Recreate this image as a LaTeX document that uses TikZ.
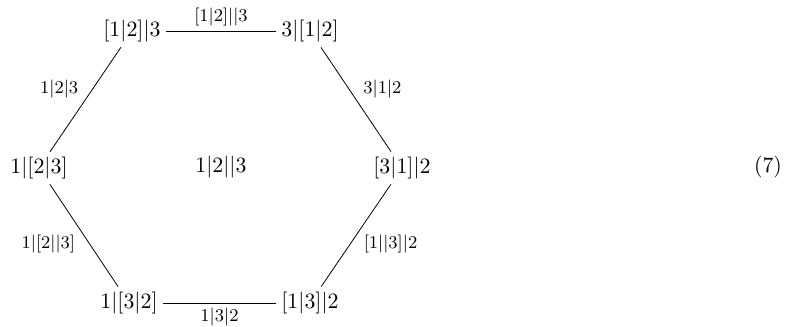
\documentclass[tikz,border=0pt]{standalone}
\begin{document}
\begin{tikzpicture}[x=0.5pt,y=-0.5pt,
  vert/.style={inner sep=2.5pt,font=\fontsize{11.2}{13}\selectfont},
  lab/.style={font=\fontsize{9.5}{11}\selectfont,inner sep=2.5pt},
  edge/.style={draw,line width=0.4pt}]
\useasboundingbox (0,0) rectangle (794,327);
\node[vert] (tl) at (132,31) {$[1|2]|3$};
\node[vert] (tr) at (310,31) {$3|[1|2]$};
\node[vert] (l) at (39,168) {$1|[2|3]$};
\node[vert] (c) at (221,167) {$1|2||3$};
\node[vert] (r) at (402,168) {$[3|1]|2$};
\node[vert] (bl) at (129,303) {$1|[3|2]$};
\node[vert] (br) at (310,303) {$[1|3]|2$};
\node[vert] (eq) at (768,167) {$(7)$};
\path[edge] (tl) -- node[lab,above] {$[1|2]||3$} (tr);
\path[edge] (tl) -- node[lab,pos=0.4,left=4.5pt] {$1|2|3$} (l);
\path[edge] (tr) -- node[lab,pos=0.4,right=4.5pt] {$3|1|2$} (r);
\path[edge] (l) -- node[lab,pos=0.58,left=4.5pt] {$1|[2||3]$} (bl);
\path[edge] (r) -- node[lab,pos=0.58,right=4pt] {$[1||3]|2$} (br);
\path[edge] (bl) -- node[lab,below] {$1|3|2$} (br);
\end{tikzpicture}
\end{document}
